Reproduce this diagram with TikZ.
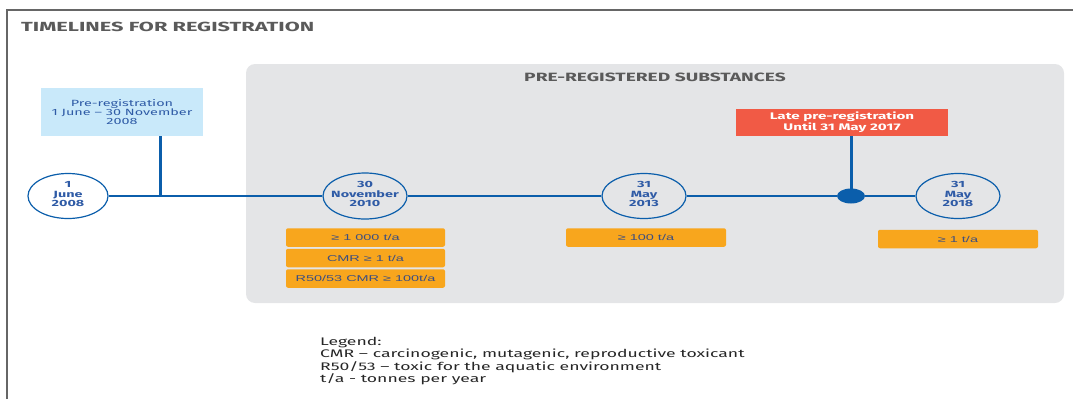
\documentclass[tikz,border=0pt]{standalone}
\usepackage{fontspec}
\setmainfont{Fira Sans}[FakeStretch=1.45]
\newfontfamily\headf{Fira Sans}[FakeStretch=1.65]
\newfontfamily\widef{Fira Sans}[FakeStretch=1.6]
\newfontfamily\arialx{Liberation Sans}[FakeStretch=1.7]
\usetikzlibrary{shapes.geometric}
\definecolor{tblue}{HTML}{0B5EAB}
\definecolor{ttext}{HTML}{2F5BA6}
\definecolor{lblue}{HTML}{C9E9FA}
\definecolor{lred}{HTML}{F15A45}
\definecolor{orng}{HTML}{F8A61D}
\definecolor{pgray}{HTML}{E4E5E7}
\definecolor{tgray}{HTML}{5A5A5A}
\definecolor{ogtext}{HTML}{3C4E80}
\tikzset{
  frameline/.style={draw=black!60, line width=1.2pt},
  datecirc/.style={ellipse, draw=tblue, line width=1.2pt, minimum width=80pt, minimum height=45pt, inner xsep=-6pt, inner ysep=0pt, text depth=4pt, align=center, text=ttext, font=\widef\bfseries\fontsize{9}{9.5}\selectfont},
  tline/.style={draw=tblue, line width=2pt},
  vline/.style={draw=tblue, line width=3pt},
  obox/.style={fill=orng, rounded corners=2pt, minimum width=159pt, minimum height=18.5pt, inner sep=0pt, text=ogtext, font=\arialx\fontsize{8.5}{9}\selectfont},
  heading/.style={text=tgray, font=\headf\bfseries\fontsize{13.2}{14}\selectfont, inner sep=0pt}
}
\begin{document}
\begin{tikzpicture}[x=1pt,y=-1pt]
\useasboundingbox (0,0) rectangle (1073,399);
\draw[frameline] (7,399) -- (7,10) -- (1073,10);
\fill[pgray, rounded corners=9pt] (246,64) rectangle (1064,303);
\node[heading, anchor=west] (title) at (21,27) {TIMELINES FOR REGISTRATION};
\node[heading, font=\widef\bfseries\fontsize{12}{13}\selectfont] (ptitle) at (655,77) {PRE-REGISTERED SUBSTANCES};

\node[fill=lblue, minimum width=162pt, minimum height=48pt, inner sep=0pt, align=center, text=ttext, font=\widef\fontsize{9}{9}\selectfont] (pre) at (122,112) {Pre-registration\\1 June – 30 November\\2008};
\node[fill=lred, minimum width=212pt, minimum height=27pt, inner sep=0pt, align=center, text=white, font=\widef\bfseries\fontsize{9.5}{9.5}\selectfont] (late) at (842,122.5) {Late pre-registration\\Until 31 May 2017};

\node[datecirc] (c1) at (68,196) {1\\June\\2008};
\node[datecirc, minimum width=84pt, minimum height=46pt] (c2) at (365,196) {30\\November\\2010};
\node[datecirc, minimum width=84pt] (c3) at (644,196) {31\\May\\2013};
\node[ellipse, fill=tblue, minimum width=28pt, minimum height=15pt, inner sep=0pt] (dot) at (851,196) {};
\node[datecirc, minimum width=84pt] (c4) at (958,196) {31\\May\\2018};
\coordinate (j1) at (160,196);

\draw[tline] (c1) -- (j1) -- (c2);
\draw[tline] (c2) -- (c3);
\draw[tline] (c3) -- (dot);
\draw[tline] (dot) -- (c4);
\draw[vline] (pre.south -| j1) -- (j1);
\draw[vline] (late.south -| dot) -- (dot.center);

\node[obox] (o1) at (365.5,237.5) {≥ 1 000 t/a};
\node[obox] (o2) at (365.5,258) {CMR ≥ 1 t/a};
\node[obox] (o3) at (365.5,278.5) {R50/53 CMR ≥ 100t/a};
\node[obox, minimum width=160pt] (o4) at (646,237.5) {≥ 100 t/a};
\node[obox, minimum width=160pt] (o5) at (958,239) {≥ 1 t/a};

\node[anchor=north west, align=left, inner sep=0pt, text=black!85, font=\widef\fontsize{11}{12.5}\selectfont] (legend) at (320,337) {Legend:\\CMR – carcinogenic, mutagenic, reproductive toxicant\\R50/53 – toxic for the aquatic environment\\t/a - tonnes per year};
\end{tikzpicture}
\end{document}
